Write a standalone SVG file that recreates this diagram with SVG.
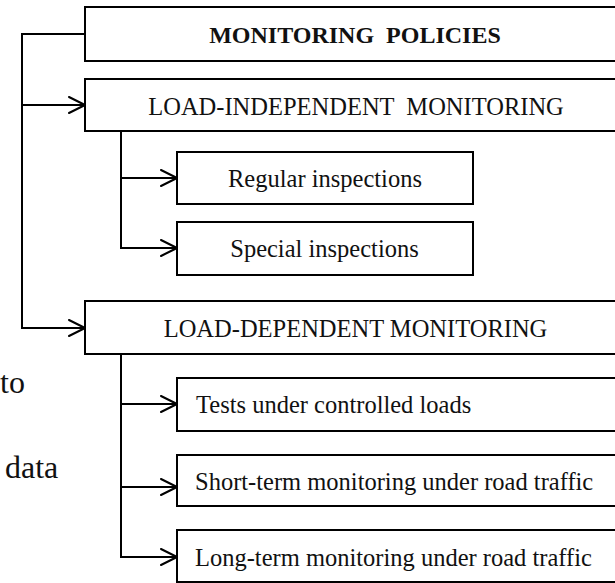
<svg xmlns="http://www.w3.org/2000/svg" width="615" height="583" viewBox="0 0 615 583">
  <style>
    .box { fill: #ffffff; stroke: #000000; stroke-width: 2; }
    .lbl { font-family: "Liberation Serif", "Times New Roman", serif; font-size: 24.5px; fill: #111111; }
    .mid { text-anchor: middle; }
    .bold { font-weight: bold; font-size: 24px; }
    .wire { fill: none; stroke: #000000; stroke-width: 2; }
    .side { font-family: "Liberation Serif", "Times New Roman", serif; font-size: 32px; fill: #111111; }
  </style>
  <defs>
    <marker id="arrow" viewBox="0 0 18 18" refX="17" refY="9" markerWidth="18" markerHeight="18" markerUnits="userSpaceOnUse" orient="auto">
      <path d="M1,1 L17,9 L1,17" fill="none" stroke="#000000" stroke-width="2" stroke-linejoin="round" stroke-linecap="round"/>
    </marker>
  </defs>

  <rect width="615" height="583" fill="#ffffff"/>

  <!-- stray words at the left margin -->
  <text class="side" x="0" y="393">to</text>
  <text class="side" x="5" y="478">data</text>

  <!-- connectors -->
  <g id="connectors">
    <path class="wire" d="M85,34 H22 V328 H85" marker-end="url(#arrow)"/>
    <path class="wire" d="M22,105 H85" marker-end="url(#arrow)"/>
    <path class="wire" d="M121,131 V248 H177" marker-end="url(#arrow)"/>
    <path class="wire" d="M121,178 H177" marker-end="url(#arrow)"/>
    <path class="wire" d="M121,354 V557 H177" marker-end="url(#arrow)"/>
    <path class="wire" d="M121,404 H177" marker-end="url(#arrow)"/>
    <path class="wire" d="M121,487 H177" marker-end="url(#arrow)"/>
  </g>

  <g id="monitoring-policies">
    <rect class="box" x="85" y="7" width="540" height="54"/>
    <text class="lbl mid bold" x="355" y="43" xml:space="preserve">MONITORING  POLICIES</text>
  </g>

  <g id="load-independent">
    <rect class="box" x="85" y="79" width="540" height="52"/>
    <text class="lbl mid" x="356" y="115" xml:space="preserve">LOAD-INDEPENDENT  MONITORING</text>
  </g>

  <g id="regular-inspections">
    <rect class="box" x="177" y="152" width="296" height="52"/>
    <text class="lbl mid" x="325" y="187">Regular inspections</text>
  </g>

  <g id="special-inspections">
    <rect class="box" x="177" y="222" width="296" height="53"/>
    <text class="lbl mid" x="324.5" y="257">Special inspections</text>
  </g>

  <g id="load-dependent">
    <rect class="box" x="85" y="301" width="540" height="53"/>
    <text class="lbl mid" x="355.5" y="337">LOAD-DEPENDENT MONITORING</text>
  </g>

  <g id="controlled-loads">
    <rect class="box" x="177" y="378" width="450" height="53"/>
    <text class="lbl" x="196" y="413">Tests under controlled loads</text>
  </g>

  <g id="short-term">
    <rect class="box" x="177" y="455" width="450" height="51"/>
    <text class="lbl" x="195" y="490">Short-term monitoring under road traffic</text>
  </g>

  <g id="long-term">
    <rect class="box" x="177" y="530" width="450" height="52"/>
    <text class="lbl" x="195" y="566">Long-term monitoring under road traffic</text>
  </g>
</svg>
